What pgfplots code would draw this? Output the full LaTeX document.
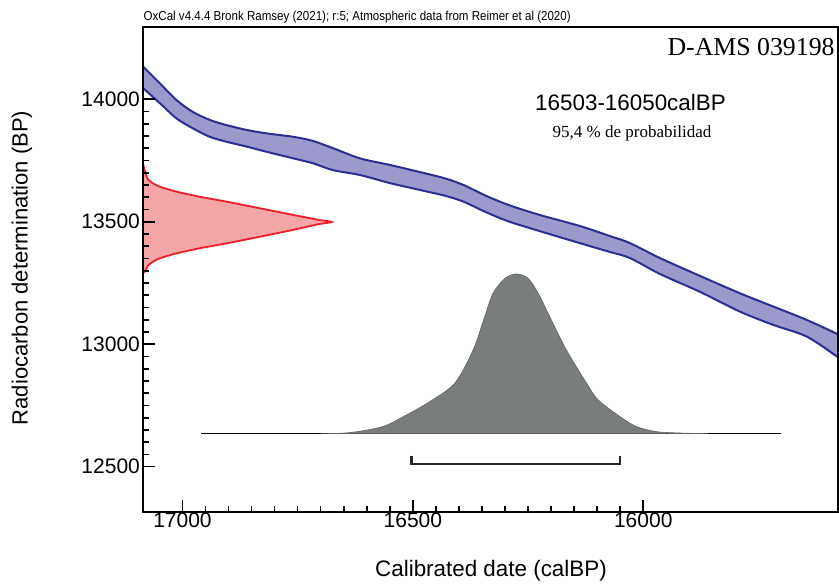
\documentclass[border=0pt]{standalone}
\usepackage{pgfplots}
\pgfplotsset{compat=1.18}
\usetikzlibrary{calc}
\usepackage{graphicx}
\usepackage{fontspec}
\setmainfont{Liberation Sans}
\newfontfamily\seriffont{Liberation Serif}
\definecolor{bandedge}{RGB}{43,47,145}
\definecolor{bandfill}{RGB}{156,153,205}
\definecolor{redline}{RGB}{236,30,40}
\definecolor{pinkfill}{RGB}{245,166,166}
\definecolor{grayfill}{RGB}{122,125,125}
\definecolor{grayedge}{RGB}{95,98,98}
\definecolor{baseline}{RGB}{135,135,135}
\begin{document}
\begin{tikzpicture}
\begin{axis}[name=ax, scale only axis, width=347.2pt, height=242.35pt,
  x dir=reverse, xmin=15578, xmax=17085, ymin=12315, ymax=14294,
  scaled ticks=false,
  xtick={16000,16500,17000}, ytick={12500,13000,13500,14000},
  minor x tick num=9, minor y tick num=9,
  xtick pos=left, ytick pos=left, tick align=inside,
  major tick length=6pt, minor tick length=3pt,
  axis line style={line width=1pt},
  tick style={black, line width=0.8pt},
  axis on top,
  ticklabel style={font=\fontsize{10.5}{12}\selectfont},
  xticklabel style={inner sep=1pt, yshift=1pt},
  yticklabel style={inner sep=1.5pt},
  /pgf/number format/1000 sep={},
  /pgf/number format/assume math mode=true]
% calibration band (fill)
\addplot[draw=none, fill=bandfill, smooth] coordinates {
(17085,14133)(17049,14065)(17013,13997)(16978,13949)(16941,13916)(16905,13895)(16861,13875)(16818,13861)(16760,13847)(16717,13830)(16674,13801)(16615,13759)(16550,13732)(16485,13703)(16430,13677)(16390,13650)(16340,13605)(16290,13567)(16225,13528)(16138,13483)(16073,13442)(16029,13413)(15964,13352)(15877,13279)(15790,13208)(15718,13154)(15645,13099)(15575,13038)
(15575,12944)(15645,13031)(15718,13079)(15790,13133)(15877,13214)(15964,13287)(16029,13352)(16073,13377)(16138,13413)(16225,13462)(16290,13500)(16340,13538)(16390,13582)(16430,13606)(16485,13630)(16550,13658)(16615,13691)(16674,13711)(16717,13739)(16760,13759)(16818,13786)(16861,13807)(16905,13827)(16941,13847)(16978,13882)(17013,13922)(17049,13984)(17085,14045)} -- cycle;
\addplot[bandedge, line width=1pt, smooth] coordinates {
(17085,14133)(17049,14065)(17013,13997)(16978,13949)(16941,13916)(16905,13895)(16861,13875)(16818,13861)(16760,13847)(16717,13830)(16674,13801)(16615,13759)(16550,13732)(16485,13703)(16430,13677)(16390,13650)(16340,13605)(16290,13567)(16225,13528)(16138,13483)(16073,13442)(16029,13413)(15964,13352)(15877,13279)(15790,13208)(15718,13154)(15645,13099)(15575,13038)};
\addplot[bandedge, line width=1pt, smooth] coordinates {
(17085,14045)(17049,13984)(17013,13922)(16978,13882)(16941,13847)(16905,13827)(16861,13807)(16818,13786)(16760,13759)(16717,13739)(16674,13711)(16615,13691)(16550,13658)(16485,13630)(16430,13606)(16390,13582)(16340,13538)(16290,13500)(16225,13462)(16138,13413)(16073,13377)(16029,13352)(15964,13287)(15877,13214)(15790,13133)(15718,13079)(15645,13031)(15575,12944)};
% radiocarbon determination
\addplot[pinkfill, draw=none, fill=pinkfill, smooth] coordinates {
(17085,13732)(17080,13698)(17075,13673)(17064,13657)(17049,13643)(17013,13623)(16962,13602)(16904,13582)(16832,13555)(16760,13528)(16705,13508)(16676,13499)(16705,13490)(16760,13467)(16832,13439)(16904,13412)(16962,13392)(17013,13371)(17049,13351)(17064,13337)(17075,13321)(17080,13302)(17085,13290)} -- cycle;
\addplot[redline, line width=0.9pt, smooth] coordinates {
(17085,13732)(17080,13698)(17075,13673)(17064,13657)(17049,13643)(17013,13623)(16962,13602)(16904,13582)(16832,13555)(16760,13528)(16705,13508)(16676,13499)(16705,13490)(16760,13467)(16832,13439)(16904,13412)(16962,13392)(17013,13371)(17049,13351)(17064,13337)(17075,13321)(17080,13302)(17085,13290)};
% calibrated distribution
\addplot[baseline, line width=0.7pt] coordinates {(16960,12635)(15700,12635)};
\addplot[grayfill, fill=grayfill, draw=grayedge, line width=0.3pt, smooth] coordinates {
(16700,12635)(16637,12639)(16565,12664)(16514,12711)(16463,12766)(16409,12841)(16369,12977)(16344,13113)(16326,13208)(16300,13269)(16275,13287)(16250,13269)(16228,13208)(16203,13113)(16167,12977)(16123,12841)(16098,12773)(16051,12705)(16015,12664)(15971,12643)(15913,12637)(15860,12635)} -- cycle;
% 95.4% range
\addplot[black!85, line width=1.2pt] coordinates {(16503,12545)(16503,12512)(16050,12512)(16050,12545)};
\end{axis}
\begin{scope}[shift={($(ax.north west)+(-71.65pt,13.65pt)$)}, x=0.5pt, y=-0.5pt]
\node[anchor=base west, inner sep=0] at (143.3,21) {\resizebox{213.5pt}{\height}{\fontsize{6.5}{7}\selectfont OxCal v4.4.4 Bronk Ramsey (2021); r:5; Atmospheric data from Reimer et al (2020)}};
\node[anchor=base east, inner sep=0] at (835,56) {\seriffont\fontsize{12.9}{14}\selectfont D-AMS 039198};
\node[anchor=base, inner sep=0] at (630.5,111) {\fontsize{11.2}{13}\selectfont 16503-16050calBP};
\node[anchor=base, inner sep=0] at (632,138) {\seriffont\fontsize{8.5}{10}\selectfont 95,4 \% de probabilidad};
\node[rotate=90, inner sep=0] at (22,268) {\fontsize{11}{13}\selectfont Radiocarbon determination (BP)};
\node[inner sep=0] at (491,571) {\fontsize{11.2}{13}\selectfont Calibrated date (calBP)};
\end{scope}
\pgfresetboundingbox
\path[use as bounding box] ($(ax.north west)+(-71.65pt,13.65pt)$) rectangle ++(419.5pt,-291.5pt);
\end{tikzpicture}
\end{document}
